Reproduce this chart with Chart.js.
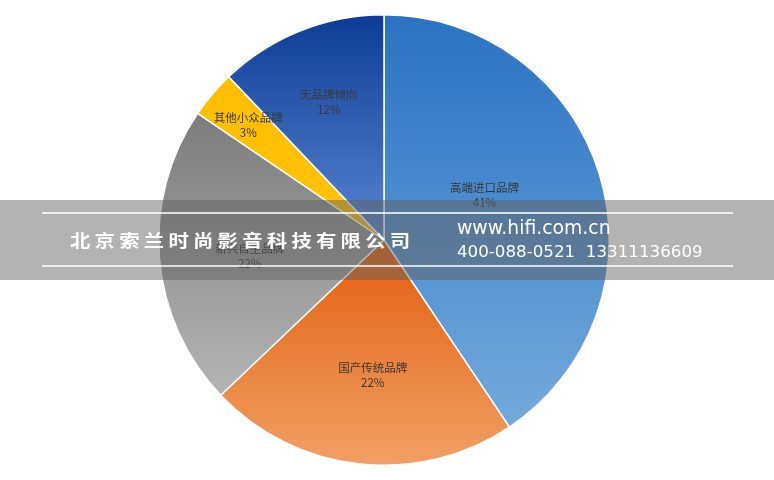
<!DOCTYPE html>
<html>
<head>
<meta charset="utf-8">
<script src="https://cdn.jsdelivr.net/npm/chart.js@4/dist/chart.umd.min.js"></script>
<style>
  html, body { margin: 0; padding: 0; background: #fff; }
  #wrap { width: 774px; height: 480px; position: relative; }
</style>
</head>
<body>
<div id="wrap"><canvas id="pieChart" width="774" height="480"></canvas></div>
<script>
const categories = ['高端进口品牌', '国产传统品牌', '新兴自主品牌', '其他小众品牌', '无品牌倾向'];
// shares; labels show them rounded (41/22/22/3/12)
const shares = [40.6, 22.3, 21.6, 3.4, 12.1];

// slice colours: top of slice -> bottom of slice
const topColors = ['#2a72c3', '#e25e0c', '#7c7c7c', '#ffbe00', '#0c3c96'];
const bottomColors = ['#74aadb', '#f1a066', '#b4b4b4', '#ffc20a', '#5a86d0'];
const labelRadius = [0.49, 0.6, 0.6, 0.79, 0.66];
const labelTurn = [-7.5, -1.5, -2, 0, 0]; // degrees

const company = '北京索兰时尚影音科技有限公司';
const site = 'www.hifi.com.cn';
const phones = '400-088-0521  13311136609';

function sliceGradient(context) {
    const chart = context.chart;
    const area = chart.chartArea;
    const i = context.dataIndex;
    if (!area) return topColors[i];
    const cx = (area.left + area.right) / 2;
    const cy = (area.top + area.bottom) / 2;
    const r = Math.min(area.right - area.left, area.bottom - area.top) / 2;
    const total = shares.reduce((a, b) => a + b, 0);
    let before = 0;
    for (let k = 0; k < i; k++) before += shares[k];
    const a0 = before / total * Math.PI * 2;
    const a1 = (before + shares[i]) / total * Math.PI * 2;
    // vertical extent of the slice (angles measured clockwise from top)
    let ys = [cy, cy - Math.cos(a0) * r, cy - Math.cos(a1) * r];
    if (a0 <= 0 && a1 >= 0) ys.push(cy - r);
    if (a0 <= Math.PI && a1 >= Math.PI) ys.push(cy + r);
    const g = chart.ctx.createLinearGradient(0, Math.min(...ys), 0, Math.max(...ys));
    g.addColorStop(0, topColors[i]);
    g.addColorStop(1, bottomColors[i]);
    return g;
}

const sliceLabels = {
    id: 'sliceLabels',
    afterDatasetsDraw(chart) {
        const ctx = chart.ctx;
        const meta = chart.getDatasetMeta(0);
        ctx.save();
        ctx.textAlign = 'center';
        ctx.textBaseline = 'middle';
        ctx.fillStyle = '#383838';
        ctx.font = '11.5px "Noto Sans CJK SC", sans-serif';
        meta.data.forEach((arc, i) => {
            const mid = (arc.startAngle + arc.endAngle) / 2 + labelTurn[i] * Math.PI / 180;
            const rr = arc.outerRadius * labelRadius[i];
            const x = arc.x + Math.cos(mid) * rr;
            const y = arc.y + Math.sin(mid) * rr;
            ctx.fillText(categories[i], x, y - 7);
            ctx.fillText(Math.round(shares[i]) + '%', x, y + 8);
        });
        ctx.restore();
    }
};

const watermark = {
    id: 'watermark',
    afterDraw(chart) {
        const ctx = chart.ctx;
        const w = chart.width;
        ctx.save();
        ctx.fillStyle = 'rgba(96, 96, 96, 0.48)';
        ctx.fillRect(0, 200, w, 80);
        ctx.strokeStyle = '#ffffff';
        ctx.lineWidth = 1.5;
        ctx.beginPath();
        ctx.moveTo(42, 213); ctx.lineTo(733, 213);
        ctx.moveTo(42, 266); ctx.lineTo(733, 266);
        ctx.stroke();
        ctx.fillStyle = '#ffffff';
        ctx.textBaseline = 'middle';
        ctx.textAlign = 'left';
        // company name, slightly widened glyphs
        ctx.save();
        ctx.translate(70, 241);
        ctx.scale(1.2, 1);
        ctx.font = 'bold 17px "Noto Sans CJK SC", sans-serif';
        ctx.letterSpacing = '3.5px';
        ctx.fillText(company, 0, 0);
        ctx.restore();
        ctx.font = '18.8px "DejaVu Sans", sans-serif';
        ctx.fillText(site, 457, 229);
        ctx.font = '16.7px "DejaVu Sans", sans-serif';
        ctx.fillText(phones, 457, 253);
        ctx.restore();
    }
};

new Chart(document.getElementById('pieChart').getContext('2d'), {
    type: 'pie',
    data: {
        labels: categories,
        datasets: [{
            data: shares,
            backgroundColor: sliceGradient,
            borderColor: '#ffffff',
            borderWidth: 1.5
        }]
    },
    options: {
        responsive: false,
        animation: false,
        layout: { padding: { top: 14, bottom: 14, left: 0, right: 6 } },
        plugins: {
            legend: { display: false },
            tooltip: { enabled: false }
        }
    },
    plugins: [sliceLabels, watermark]
});
</script>
</body>
</html>
